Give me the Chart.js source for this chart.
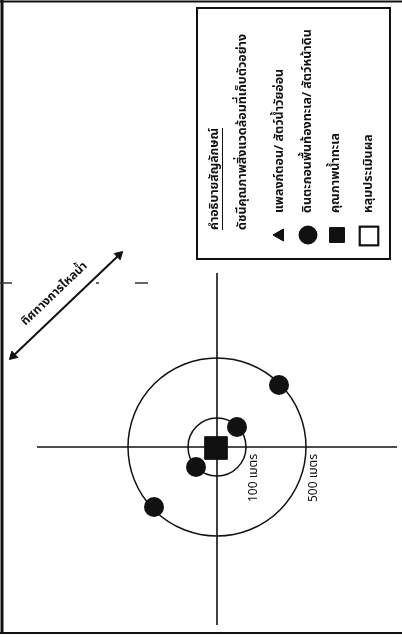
<!DOCTYPE html>
<html>
<head>
<meta charset="utf-8">
<script src="https://cdn.jsdelivr.net/npm/chart.js@4"></script>
<style>
  html, body { margin: 0; padding: 0; background: #fff; }
  #wrap { width: 402px; height: 638px; position: relative; }
</style>
</head>
<body>
<div id="wrap"><canvas id="sketch"></canvas></div>
<script>
// Diagram units, centre of the sampling cross = (0, 0), y up
const axisH = [{ x: -180, y: 0 }, { x: 180, y: 0 }];
const axisV = [{ x: 0, y: 174 }, { x: 0, y: -178 }];

const ringRadii  = [29, 89];
const ringLabels = ['100 เมตร', '500 เมตร'];

// sediment / benthos stations on the rings
const stationX = [20, -21, 62, -63];
const stationY = [20, -20, 62, -60];

// appraisal well in the middle
const wellX = [-1];
const wellY = [-1];

// flow direction arrow
const flowX = [-204, -98];
const flowY = [91, 192];
const flowLabel = 'ทิศทางการไหลน้ำ';

const legendTitle = 'คำอธิบายสัญลักษณ์';
const legendSub   = 'ดัชนีคุณภาพสิ่งแวดล้อมที่เก็บตัวอย่าง';
const legendItems = [
  'แพลงก์ตอน/ สัตว์น้ำวัยอ่อน',
  'ดินตะกอนพื้นท้องทะเล/ สัตว์หน้าดิน',
  'คุณภาพน้ำทะเล',
  'หลุมประเมินผล'
];

const INK = '#111';
const THAI = "'Noto Sans Thai', 'Noto Sans Thai UI', Loma, Garuda, 'Tlwg Typo', 'Noto Sans', sans-serif";

function pxRadius(chart, r) {
  const s = chart.scales.x;
  return s.getPixelForValue(r) - s.getPixelForValue(0);
}

function arrowRotation(ctx) {
  const { x, y } = ctx.chart.scales;
  const i = ctx.dataIndex, j = i === 0 ? 1 : 0;
  const dx = x.getPixelForValue(flowX[i]) - x.getPixelForValue(flowX[j]);
  const dy = y.getPixelForValue(flowY[i]) - y.getPixelForValue(flowY[j]);
  return Math.atan2(dx, -dy) * 180 / Math.PI;
}

function upText(ctx, text, x, y, maxW) {
  // text turned a quarter to the left, reading from bottom to top
  ctx.save();
  ctx.translate(x, y);
  ctx.rotate(-Math.PI / 2);
  ctx.textAlign = 'left';
  ctx.textBaseline = 'middle';
  if (maxW) ctx.fillText(text, 0, 0, maxW); else ctx.fillText(text, 0, 0);
  ctx.restore();
}

const sheetPlugin = {
  id: 'sheet',
  afterDatasetsDraw(chart) {
    const ctx = chart.ctx;
    const { x: sx, y: sy } = chart.scales;
    ctx.save();
    ctx.strokeStyle = INK;
    ctx.fillStyle = INK;

    // page frame of the scan
    ctx.lineWidth = 3;
    ctx.beginPath();
    ctx.moveTo(2, 0); ctx.lineTo(2, 634);
    ctx.stroke();
    ctx.lineWidth = 2;
    ctx.beginPath();
    ctx.moveTo(0, 633); ctx.lineTo(402, 633);
    ctx.moveTo(0, 1.5); ctx.lineTo(402, 1.5);
    ctx.stroke();

    // stray dashes
    ctx.lineWidth = 1.5;
    ctx.strokeStyle = '#333';
    ctx.beginPath();
    ctx.moveTo(0, 283); ctx.lineTo(12, 283);
    ctx.moveTo(96, 283); ctx.lineTo(99, 283);
    ctx.moveTo(135, 283); ctx.lineTo(148, 283);
    ctx.stroke();
    ctx.strokeStyle = INK;

    // ring labels
    ctx.font = '12px ' + THAI;
    ringRadii.forEach((r, i) => {
      const px = sx.getPixelForValue(r) + 9;
      upText(ctx, ringLabels[i], px, sy.getPixelForValue(0) + 55, 54);
    });

    // flow label along the arrow
    const ax0 = sx.getPixelForValue(flowX[0]), ay0 = sy.getPixelForValue(flowY[0]);
    const ax1 = sx.getPixelForValue(flowX[1]), ay1 = sy.getPixelForValue(flowY[1]);
    const ang = Math.atan2(ay1 - ay0, ax1 - ax0);
    ctx.save();
    ctx.translate((ax0 + ax1) / 2 - 11, (ay0 + ay1) / 2 - 11);
    ctx.rotate(ang);
    ctx.font = 'bold 12px ' + THAI;
    ctx.textAlign = 'center';
    ctx.textBaseline = 'middle';
    ctx.fillText(flowLabel, 0, 0, 94);
    ctx.restore();

    // legend box
    ctx.lineWidth = 2;
    ctx.strokeRect(197, 8, 193, 251);

    ctx.font = 'bold 12.5px ' + THAI;
    upText(ctx, legendTitle, 215, 230, 102);
    ctx.lineWidth = 1;
    ctx.beginPath();
    ctx.moveTo(222.5, 230); ctx.lineTo(222.5, 128);
    ctx.stroke();
    upText(ctx, legendSub, 243, 230, 197);

    const cols = [280, 308, 336, 369];
    const widths = [152, 193, 82, 80];
    const H = Chart.helpers;
    legendItems.forEach((t, i) => {
      upText(ctx, t, cols[i], 213, widths[i]);
    });
    // symbols
    ctx.fillStyle = INK;
    ctx.strokeStyle = INK;
    ctx.lineWidth = 1;
    H.drawPoint(ctx, { pointStyle: 'triangle', radius: 7, rotation: -90, borderWidth: 1 }, 280, 235);
    ctx.fill();
    H.drawPoint(ctx, { pointStyle: 'circle', radius: 9, borderWidth: 1 }, 308, 235);
    ctx.fill();
    H.drawPoint(ctx, { pointStyle: 'rect', radius: 10.5, borderWidth: 1 }, 337, 235);
    ctx.fill();
    ctx.fillStyle = '#fff';
    ctx.lineWidth = 2;
    H.drawPoint(ctx, { pointStyle: 'rect', radius: 13, borderWidth: 2 }, 369, 236);
    ctx.fill();
    ctx.stroke();

    ctx.restore();
  }
};

new Chart(document.getElementById('sketch'), {
  type: 'scatter',
  data: {
    datasets: [
      {
        label: 'axisH', data: axisH, showLine: true,
        borderColor: INK, borderWidth: 1.6, pointRadius: 0
      },
      {
        label: 'axisV', data: axisV, showLine: true,
        borderColor: INK, borderWidth: 1.6, pointRadius: 0
      },
      {
        label: 'rings',
        data: ringRadii.map(() => ({ x: 0, y: 0 })),
        pointRadius: ctx => pxRadius(ctx.chart, ringRadii[ctx.dataIndex]),
        pointBackgroundColor: 'rgba(0,0,0,0)',
        pointBorderColor: INK, pointBorderWidth: 1.5
      },
      {
        label: 'stations',
        data: stationX.map((x, i) => ({ x, y: stationY[i] })),
        pointRadius: 10, pointBackgroundColor: INK, pointBorderColor: INK, pointBorderWidth: 0
      },
      {
        label: 'well',
        data: wellX.map((x, i) => ({ x, y: wellY[i] })),
        pointStyle: 'rect', pointRadius: 16,
        pointBackgroundColor: INK, pointBorderColor: INK, pointBorderWidth: 1
      },
      {
        label: 'wellMark',
        data: wellX.map((x, i) => ({ x, y: wellY[i] })),
        pointStyle: 'rect', pointRadius: 7,
        pointBackgroundColor: 'rgba(0,0,0,0)', pointBorderColor: '#ddd', pointBorderWidth: 1
      },
      {
        label: 'flow',
        data: flowX.map((x, i) => ({ x, y: flowY[i] })),
        showLine: true, borderColor: INK, borderWidth: 2,
        pointStyle: 'triangle', pointRadius: 5, pointRotation: arrowRotation,
        pointBackgroundColor: INK, pointBorderColor: INK, pointBorderWidth: 1
      }
    ]
  },
  options: {
    responsive: true,
    maintainAspectRatio: false,
    animation: false,
    events: [],
    layout: { padding: 0, autoPadding: false },
    plugins: { legend: { display: false }, tooltip: { enabled: false } },
    scales: {
      x: { type: 'linear', min: -217, max: 185, display: false },
      y: { type: 'linear', min: -191, max: 447, display: false }
    }
  },
  plugins: [sheetPlugin]
});
</script>
</body>
</html>
